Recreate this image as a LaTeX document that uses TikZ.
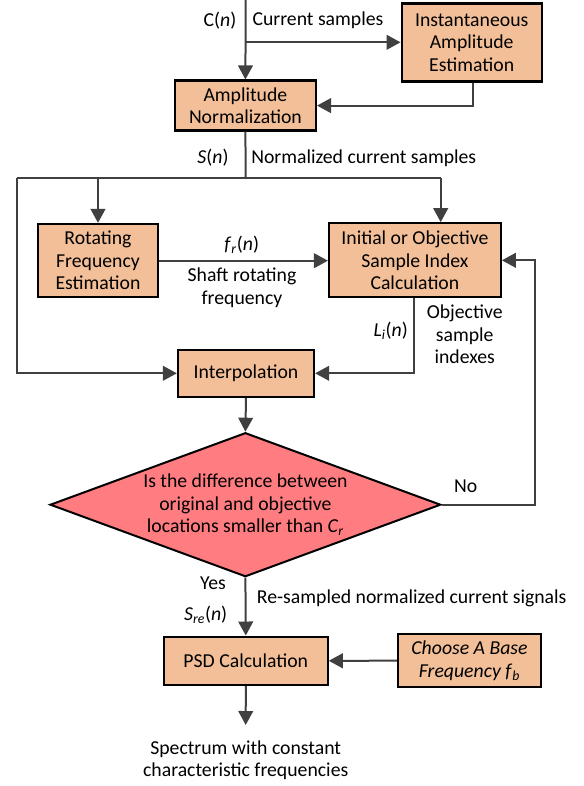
\documentclass[tikz,border=0pt]{standalone}
\usepackage{fontspec}
\setmainfont{Carlito}
\usetikzlibrary{arrows.meta,shapes.geometric,calc}
\definecolor{boxfill}{HTML}{F2BF98}
\definecolor{dfill}{HTML}{FF7C80}
\definecolor{linec}{HTML}{404040}
\tikzset{
  procbox/.style={draw=black,line width=1.7pt,fill=boxfill,align=center,inner sep=0pt},
  conn/.style={draw=linec,line width=1.5pt},
  arr/.style={conn,-{Triangle[length=10.5pt,width=11pt]}},
  lbl/.style={inner sep=0pt,align=center},
}
\begin{document}
\begin{tikzpicture}[x=0.75pt,y=-0.75pt,font=\fontsize{14.8pt}{16.9pt}\selectfont]
\useasboundingbox (0,0) rectangle (584,786);
% boxes
\node[procbox,minimum width=140pt*0.75,minimum height=78pt*0.75] (inst) at (471.7,42.5) {Instantaneous\\Amplitude\\Estimation};
\node[procbox,minimum width=141pt*0.75,minimum height=50pt*0.75] (norm) at (245.4,105.6) {Amplitude\\Normalization};
\node[procbox,minimum width=120.6pt*0.75,minimum height=73.3pt*0.75] (rot) at (98,260.7) {Rotating\\Frequency\\Estimation};
\node[procbox,minimum width=171.7pt*0.75,minimum height=74pt*0.75] (init) at (414.9,260.3) {Initial or Objective\\Sample Index\\Calculation};
\node[procbox,minimum width=136pt*0.75,minimum height=46.7pt*0.75] (interp) at (246,373.3) {Interpolation};
\node[diamond,draw=black,line width=1.5pt,fill=dfill,minimum width=390.7pt*0.75,minimum height=144pt*0.75,inner sep=0pt] (dec) at (245.4,504.7) {};
\node[lbl] (dtext) at (245.4,504.7) {Is the difference between\\original and objective\\locations smaller than \textit{C}\textsubscript{\textit{r}}};
\node[procbox,minimum width=163.7pt*0.75,minimum height=48.3pt*0.75] (psd) at (245.8,660.8) {PSD Calculation};
\node[procbox,minimum width=142.4pt*0.75,minimum height=53.3pt*0.75] (choose) at (469.5,660.7) {\textit{Choose A Base}\\\textit{Frequency f}\textsubscript{\textit{b}}};
\node[lbl] (spec) at (245.7,760) {Spectrum with constant\\characteristic frequencies};
% coordinates
\coordinate (top) at (245.7,0);
\coordinate (jc) at (245.7,42.3);
\coordinate (js) at (245.7,178.3);
\coordinate (jl) at (16.7,178.3);
\coordinate (jr) at (440.7,178.3);
\coordinate (jrot) at (98,178.3);
\coordinate (nox) at (534.7,504.7);
\coordinate (out) at (245.7,725);
% connectors
\draw[arr] (top) -- (norm.north);
\draw[arr] (jc) -- (jc -| inst.west);
\draw[arr] (inst.south -| 472.7,0) |- (norm.east);
\draw[conn] (norm.south) -- (js);
\draw[conn] (jl) -- (jr);
\draw[arr] (jrot) -- (jrot |- rot.north);
\draw[arr] (jr) -- (jr |- init.north);
\draw[arr] (jl) |- (interp.west);
\draw[arr] (rot.east) -- (rot.east -| init.west);
\draw[arr] (init.south -| 414,0) |- (interp.east);
\draw[arr] (interp.south) -- (dec.north);
\draw[arr] (dec.east) -- (nox) |- (init.east);
\draw[arr] (dec.south) -- (psd.north);
\draw[arr] (choose.west) -- (psd.east);
\draw[arr] (psd.south) -- (out);
% labels
\node[lbl] (lc) at (220,20.7) {C(\textit{n})};
\node[lbl,anchor=west] (lcs) at (252.3,20.7) {Current samples};
\node[lbl] (ls) at (213,158) {\textit{S}(\textit{n})};
\node[lbl,anchor=west] (lns) at (251,158) {Normalized current samples};
\node[lbl] (lf) at (241.7,245) {\textit{f}\textsubscript{\textit{r}}(\textit{n})};
\node[lbl] (lsrf) at (242,288) {Shaft rotating\\frequency};
\node[lbl] (lli) at (390.7,330.7) {\textit{L}\textsubscript{\textit{i}}(\textit{n})};
\node[lbl] (losi) at (464.7,334.5) {Objective\\sample\\indexes};
\node[lbl] (lno) at (465.7,486) {No};
\node[lbl] (lyes) at (213,583.3) {Yes};
\node[lbl] (lsre) at (205.7,615) {\textit{S}\textsubscript{\textit{re}}(\textit{n})};
\node[lbl,anchor=west] (lrs) at (256.7,598.3) {Re-sampled normalized current signals};
\end{tikzpicture}
\end{document}
